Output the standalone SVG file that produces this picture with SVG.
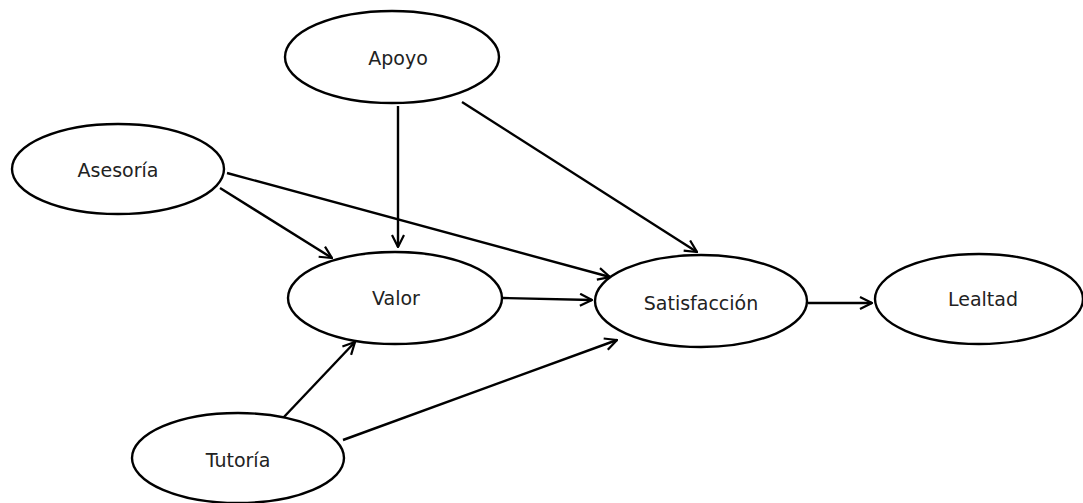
<svg xmlns="http://www.w3.org/2000/svg" width="1083" height="503" viewBox="0 0 1083 503">
  <style>
    .node ellipse { fill: #ffffff; stroke: #000000; stroke-width: 2.4; }
    .node text { font-family: "DejaVu Sans", sans-serif; font-size: 19px; fill: #222222; text-anchor: middle; dominant-baseline: central; }
    .edge { stroke: #000000; stroke-width: 2.4; fill: none; marker-end: url(#open); }
  </style>
  <defs>
    <marker id="open" viewBox="0 0 14 14" refX="13" refY="7" markerWidth="14" markerHeight="14" markerUnits="userSpaceOnUse" orient="auto">
      <path d="M1,1 L13,7 L1,13" fill="none" stroke="#000000" stroke-width="2.2"/>
    </marker>
  </defs>
  <rect width="1083" height="503" fill="#ffffff"/>

  <g id="connectors">
    <line class="edge" x1="398" y1="106" x2="398" y2="247"/>
    <line class="edge" x1="462" y1="102" x2="697" y2="252"/>
    <line class="edge" x1="220" y1="188" x2="332" y2="258"/>
    <line class="edge" x1="227" y1="173" x2="610" y2="277"/>
    <line class="edge" x1="503" y1="298" x2="592" y2="300"/>
    <line class="edge" x1="283" y1="418" x2="355" y2="342"/>
    <line class="edge" x1="343" y1="440" x2="617" y2="340"/>
    <line class="edge" x1="808" y1="303" x2="872" y2="303"/>
  </g>

  <g id="apoyo" class="node">
    <ellipse cx="392" cy="57" rx="107" ry="46"/>
    <text x="398" y="58">Apoyo</text>
  </g>
  <g id="asesoria" class="node">
    <ellipse cx="118" cy="169" rx="106" ry="45"/>
    <text x="118" y="170">Asesoría</text>
  </g>
  <g id="valor" class="node">
    <ellipse cx="395" cy="298" rx="107" ry="46"/>
    <text x="396" y="298">Valor</text>
  </g>
  <g id="satisfaccion" class="node">
    <ellipse cx="701" cy="301" rx="106" ry="46"/>
    <text x="701" y="303">Satisfacción</text>
  </g>
  <g id="lealtad" class="node">
    <ellipse cx="979" cy="299" rx="104" ry="45"/>
    <text x="983" y="299">Lealtad</text>
  </g>
  <g id="tutoria" class="node">
    <ellipse cx="238" cy="458" rx="106" ry="45"/>
    <text x="238" y="460">Tutoría</text>
  </g>
</svg>
